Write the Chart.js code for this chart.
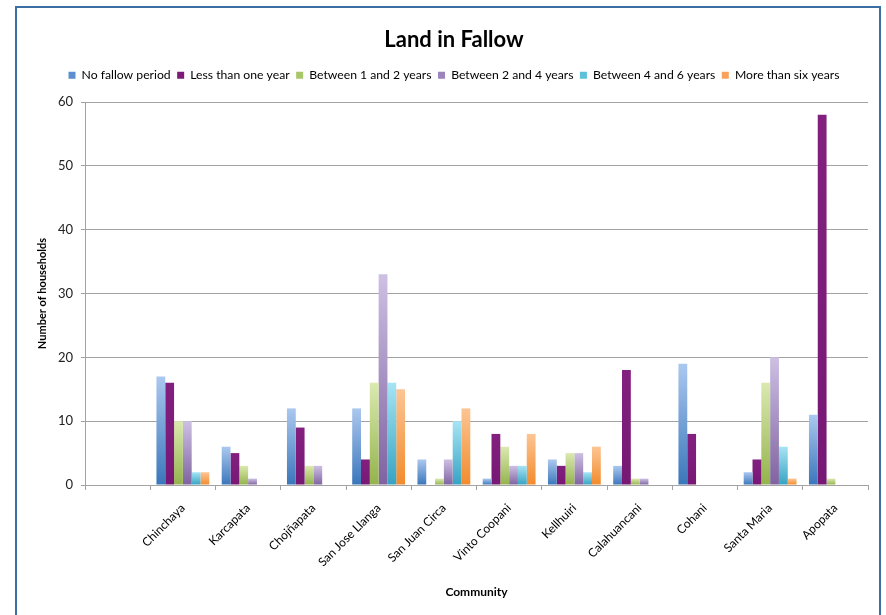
<!DOCTYPE html>
<html>
<head>
<meta charset="utf-8">
<title>Land in Fallow</title>
<script src="https://cdn.jsdelivr.net/npm/chart.js@4.4.1/dist/chart.umd.min.js"></script>
<style>
  html, body { margin: 0; padding: 0; background: #fff; overflow: hidden; }
  #frame {
    position: absolute; left: 15px; top: 6px; width: 866px; height: 700px;
    border: 2px solid #3b6ea5; box-sizing: border-box;
  }
  #chart { position: absolute; left: 0; top: 0; }
</style>
</head>
<body>
<div id="frame"></div>
<canvas id="chart" width="886" height="615"></canvas>
<script>
const communities = [
  "", "Chinchaya", "Karcapata", "Chojñapata", "San Jose Llanga", "San Juan Circa",
  "Vinto Coopani", "Kellhuiri", "Calahuancani", "Cohani", "Santa Maria", "Apopata",
];
const noFallow = [null, 17, 6, 12, 12, 4, 1, 4, 3, 19, 2, 11];
const lessThanOne = [null, 16, 5, 9, 4, 0, 8, 3, 18, 8, 4, 58];
const between1and2 = [null, 10, 3, 3, 16, 1, 6, 5, 1, 0, 16, 1];
const between2and4 = [null, 10, 1, 3, 33, 4, 3, 5, 1, 0, 20, 0];
const between4and6 = [null, 2, 0, 0, 16, 10, 3, 2, 0, 0, 6, 0];
const moreThanSix = [null, 2, 0, 0, 15, 12, 8, 6, 0, 0, 1, 0];
const yTicks = [0, 10, 20, 30, 40, 50, 60];

const FONT = "Lato, 'Open Sans', sans-serif";

// light at the top of each bar, darker at the base
function barFill(base, top, bottom) {
  return (ctx) => {
    if (ctx.type !== "data") return base;
    const chart = ctx.chart;
    const y = chart.scales.y;
    const v = ctx.raw;
    if (!y || !v) return base;
    const y1 = y.getPixelForValue(v);
    const y0 = y.getPixelForValue(0);
    if (!isFinite(y1) || !isFinite(y0) || y0 === y1) return base;
    const g = chart.ctx.createLinearGradient(0, y1, 0, y0);
    g.addColorStop(0, top);
    g.addColorStop(1, bottom);
    return g;
  };
}

const series = [
  { label: "No fallow period", data: noFallow, base: "#5b8fd0", top: "#abc8ef", bottom: "#3a76bb" },
  { label: "Less than one year", data: lessThanOne, base: "#7b1b77", top: "#83207f", bottom: "#771875" },
  { label: "Between 1 and 2 years", data: between1and2, base: "#a9c76a", top: "#dbe9b0", bottom: "#93b34c" },
  { label: "Between 2 and 4 years", data: between2and4, base: "#9c84bd", top: "#cdc0e3", bottom: "#7f63a1" },
  { label: "Between 4 and 6 years", data: between4and6, base: "#5fc0da", top: "#a6e4f4", bottom: "#36a3c2" },
  { label: "More than six years", data: moreThanSix, base: "#f9a15a", top: "#fcc594", bottom: "#f28b2c" },
];

const gridGray = "#a3a3a3";

new Chart(document.getElementById("chart"), {
  type: "bar",
  data: {
    labels: communities,
    datasets: series.map((s) => ({
      label: s.label,
      data: s.data,
      backgroundColor: barFill(s.base, s.top, s.bottom),
      borderWidth: 0,
      categoryPercentage: 0.81,
      barPercentage: 1.0,
    })),
  },
  options: {
    responsive: false,
    animation: false,
    devicePixelRatio: 1,
    layout: { padding: { left: 40, right: 18, top: 0, bottom: 0 } },
    plugins: {
      title: {
        display: true,
        text: "Land in Fallow",
        color: "#000",
        font: { family: FONT, size: 22, weight: "bold" },
        padding: { top: 27, bottom: 9 },
      },
      legend: {
        display: true,
        labels: {
          color: "#000",
          font: { family: FONT, size: 12.2 },
          boxWidth: 7,
          boxHeight: 7,
          padding: 6.5,
        },
      },
      // empty spacer between the legend and the plot
      subtitle: {
        display: true,
        text: " ",
        weight: 500,
        font: { family: FONT, size: 1 },
        padding: { top: 0, bottom: 9.5 },
      },
      tooltip: { enabled: false },
    },
    scales: {
      x: {
        grid: {
          display: true,
          drawOnChartArea: false,
          offset: true,
          color: gridGray,
          tickLength: 5,
        },
        border: { display: true, color: gridGray },
        ticks: {
          autoSkip: false,
          maxRotation: 45,
          minRotation: 45,
          padding: 11,
          color: "#000",
          font: { family: FONT, size: 12 },
        },
        title: {
          display: true,
          text: "Community",
          color: "#000",
          font: { family: FONT, size: 12, weight: "bold" },
          padding: { top: 0, bottom: 16 },
        },
        afterFit: (scale) => {
          scale.height = 130;
          scale.paddingLeft = 0;
          scale.paddingRight = 0;
        },
      },
      y: {
        min: 0,
        max: 60,
        afterBuildTicks: (scale) => {
          scale.ticks = yTicks.map((v) => ({ value: v }));
        },
        grid: { color: gridGray, tickLength: 4 },
        border: { display: true, color: gridGray },
        ticks: {
          padding: 8,
          color: "#222",
          font: { family: FONT, size: 13 },
        },
        title: {
          display: true,
          text: "Number of households",
          color: "#000",
          font: { family: FONT, size: 11, weight: "bold" },
          padding: { top: -4.6, bottom: 0 },
        },
        afterFit: (scale) => {
          scale.width = 45;
          scale.paddingTop = 102;
        },
      },
    },
  },
});
</script>
</body>
</html>
